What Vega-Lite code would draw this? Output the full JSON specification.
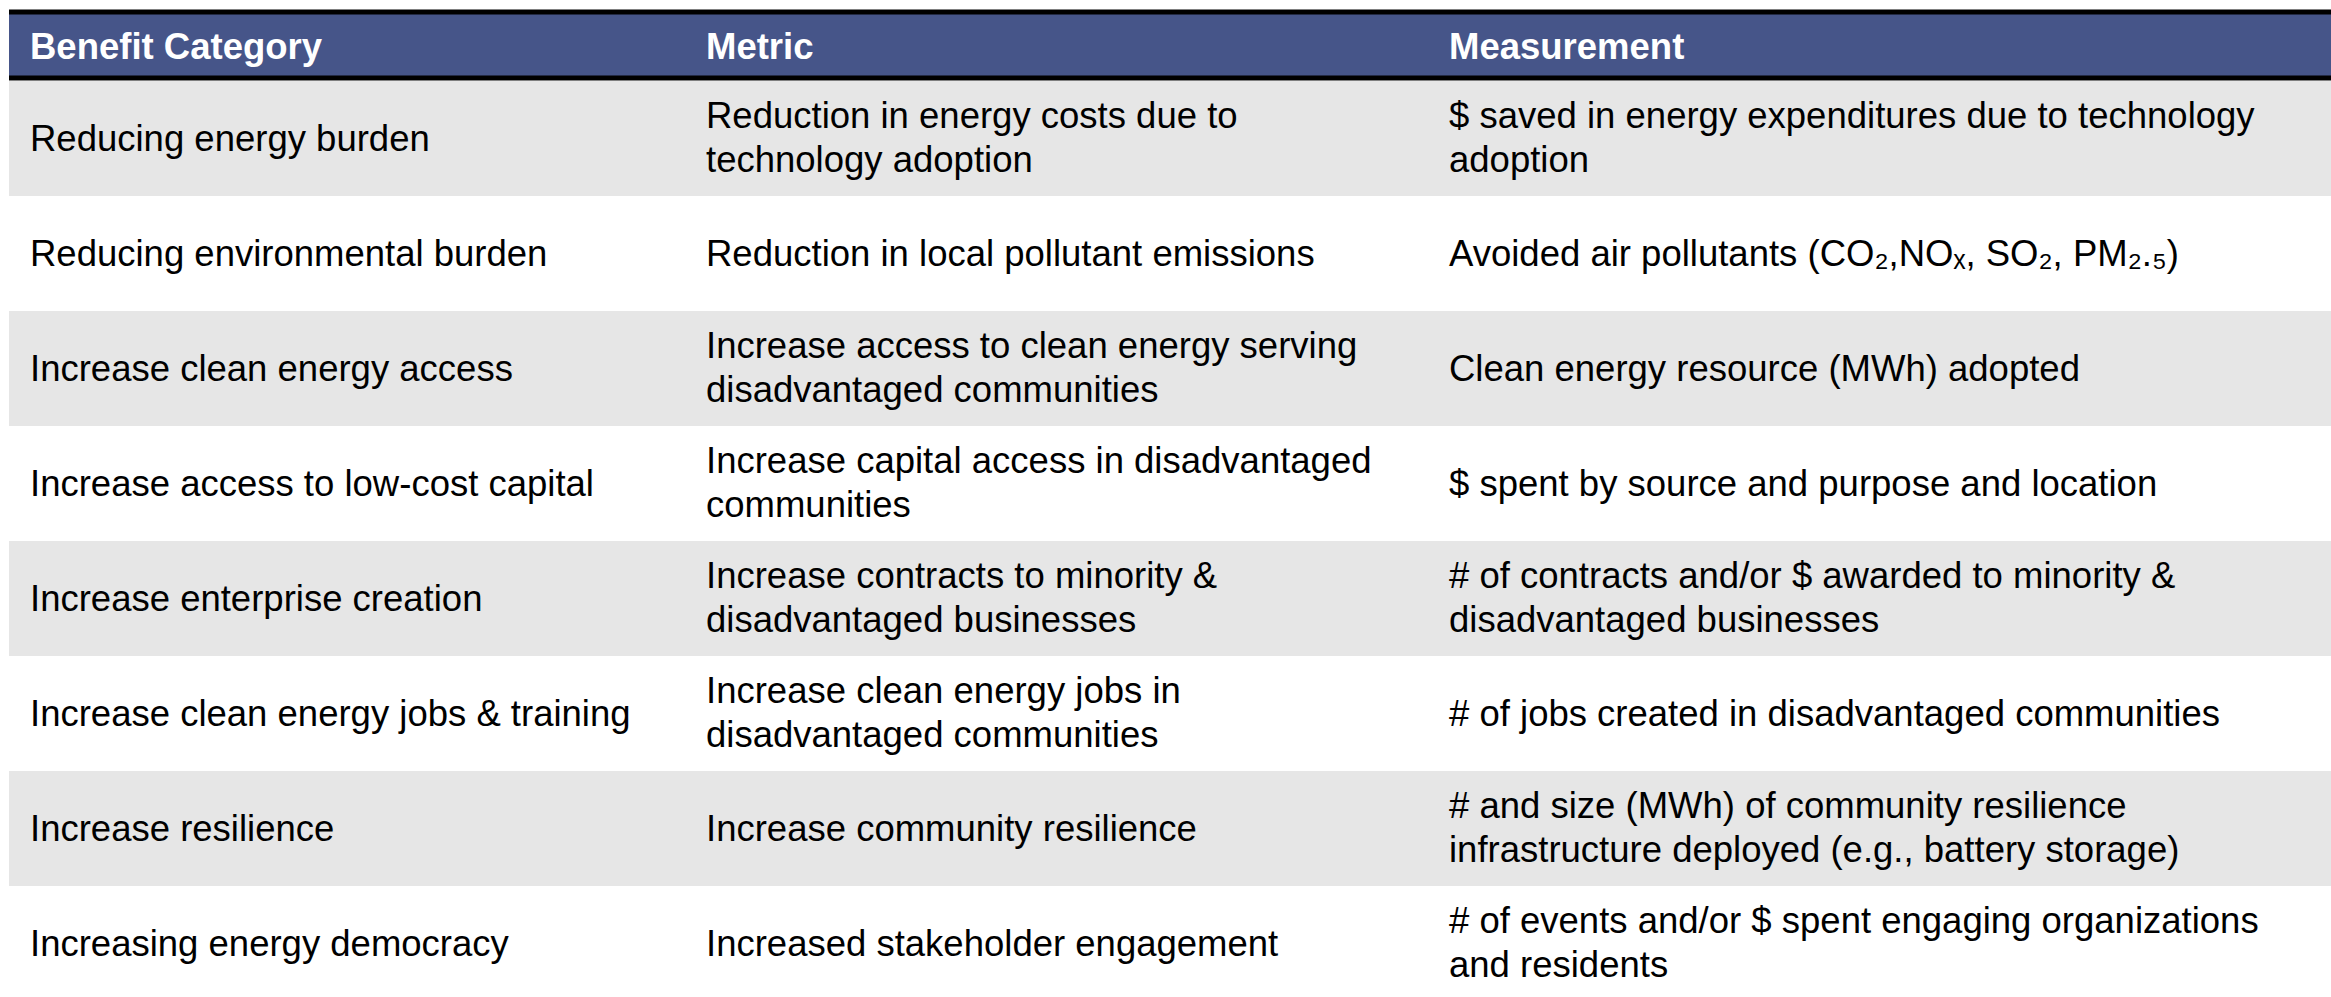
{
  "$schema": "https://vega.github.io/schema/vega-lite/v6.json",
  "padding": {"left": 6, "top": 9, "right": 0, "bottom": 0},
  "background": "white",
  "spacing": 0,
  "config": {"view": {"stroke": null}, "font": "Liberation Sans"},
  "datasets": {
    "rows": [
      {"row": 1, "cat": "Reducing energy burden", "metric": "Reduction in energy costs due to\ntechnology adoption", "meas": "$ saved in energy expenditures due to technology\nadoption"},
      {"row": 2, "cat": "Reducing environmental burden", "metric": "Reduction in local pollutant emissions", "meas": "Avoided air pollutants (CO₂,NOₓ, SO₂, PM₂.₅)"},
      {"row": 3, "cat": "Increase clean energy access", "metric": "Increase access to clean energy serving\ndisadvantaged communities", "meas": "Clean energy resource (MWh) adopted"},
      {"row": 4, "cat": "Increase access to low-cost capital", "metric": "Increase capital access in disadvantaged\ncommunities", "meas": "$ spent by source and purpose and location"},
      {"row": 5, "cat": "Increase enterprise creation", "metric": "Increase contracts to minority &\ndisadvantaged businesses", "meas": "# of contracts and/or $ awarded to minority &\ndisadvantaged businesses"},
      {"row": 6, "cat": "Increase clean energy jobs & training", "metric": "Increase clean energy jobs in\ndisadvantaged communities", "meas": "# of jobs created in disadvantaged communities"},
      {"row": 7, "cat": "Increase resilience", "metric": "Increase community resilience", "meas": "# and size (MWh) of community resilience\ninfrastructure deployed (e.g., battery storage)"},
      {"row": 8, "cat": "Increasing energy democracy", "metric": "Increased stakeholder engagement", "meas": "# of events and/or $ spent engaging organizations\nand residents"}
    ]
  },
  "vconcat": [
    {
      "spacing": 0,
      "bounds": "flush",
      "hconcat": [
        {
          "width": 676, "height": 66,
          "data": {"values": [{"label": "Benefit Category"}]},
          "view": {"fill": "#465589", "stroke": null},
          "layer": [
            {"mark": {"type": "rule", "color": "black", "strokeWidth": 5}, "encoding": {"x": {"datum": 0, "type": "quantitative", "scale": {"domain": [0, 1], "nice": false}, "axis": null}, "x2": {"datum": 1}, "y": {"datum": 1, "type": "quantitative", "scale": {"domain": [0, 1], "nice": false}, "axis": null}}},
            {"mark": {"type": "rule", "color": "black", "strokeWidth": 5}, "encoding": {"x": {"datum": 0, "type": "quantitative"}, "x2": {"datum": 1}, "y": {"datum": 0, "type": "quantitative"}}},
            {"mark": {"type": "text", "align": "left", "baseline": "middle", "dx": 21, "dy": 3, "fontSize": 36.5, "fontWeight": "bold", "color": "white"}, "encoding": {"x": {"datum": 0, "type": "quantitative"}, "y": {"datum": 0.5, "type": "quantitative"}, "text": {"field": "label"}}}
          ]
        },
        {
          "width": 743, "height": 66,
          "data": {"values": [{"label": "Metric"}]},
          "view": {"fill": "#465589", "stroke": null},
          "layer": [
            {"mark": {"type": "rule", "color": "black", "strokeWidth": 5}, "encoding": {"x": {"datum": 0, "type": "quantitative", "scale": {"domain": [0, 1], "nice": false}, "axis": null}, "x2": {"datum": 1}, "y": {"datum": 1, "type": "quantitative", "scale": {"domain": [0, 1], "nice": false}, "axis": null}}},
            {"mark": {"type": "rule", "color": "black", "strokeWidth": 5}, "encoding": {"x": {"datum": 0, "type": "quantitative"}, "x2": {"datum": 1}, "y": {"datum": 0, "type": "quantitative"}}},
            {"mark": {"type": "text", "align": "left", "baseline": "middle", "dx": 21, "dy": 3, "fontSize": 36.5, "fontWeight": "bold", "color": "white"}, "encoding": {"x": {"datum": 0, "type": "quantitative"}, "y": {"datum": 0.5, "type": "quantitative"}, "text": {"field": "label"}}}
          ]
        },
        {
          "width": 903, "height": 66,
          "data": {"values": [{"label": "Measurement"}]},
          "view": {"fill": "#465589", "stroke": null},
          "layer": [
            {"mark": {"type": "rule", "color": "black", "strokeWidth": 5}, "encoding": {"x": {"datum": 0, "type": "quantitative", "scale": {"domain": [0, 1], "nice": false}, "axis": null}, "x2": {"datum": 1}, "y": {"datum": 1, "type": "quantitative", "scale": {"domain": [0, 1], "nice": false}, "axis": null}}},
            {"mark": {"type": "rule", "color": "black", "strokeWidth": 5}, "encoding": {"x": {"datum": 0, "type": "quantitative"}, "x2": {"datum": 1}, "y": {"datum": 0, "type": "quantitative"}}},
            {"mark": {"type": "text", "align": "left", "baseline": "middle", "dx": 21, "dy": 3, "fontSize": 36.5, "fontWeight": "bold", "color": "white"}, "encoding": {"x": {"datum": 0, "type": "quantitative"}, "y": {"datum": 0.5, "type": "quantitative"}, "text": {"field": "label"}}}
          ]
        }
      ]
    },
    {
      "spacing": 0,
      "bounds": "flush",
      "hconcat": [
        {
          "width": 676, "height": 920,
          "data": {"name": "rows"},
          "layer": [
            {"transform": [{"filter": "datum.row % 2 == 1"}], "mark": {"type": "rect", "color": "#E6E6E6"}, "encoding": {"x": {"datum": 0, "type": "quantitative", "scale": {"domain": [0, 1], "nice": false}, "axis": null}, "x2": {"datum": 1}, "y": {"field": "row", "type": "ordinal", "scale": {"domain": [1, 2, 3, 4, 5, 6, 7, 8], "paddingInner": 0, "paddingOuter": 0}, "axis": null}}},
            {"transform": [{"filter": "indexof(datum.cat, '\\n') < 0"}], "mark": {"type": "text", "align": "left", "baseline": "middle", "dx": 21, "dy": 1, "fontSize": 36.5, "color": "black"}, "encoding": {"x": {"datum": 0, "type": "quantitative"}, "y": {"field": "row", "type": "ordinal"}, "text": {"field": "cat"}}},
            {"transform": [{"filter": "indexof(datum.cat, '\\n') >= 0"}], "mark": {"type": "text", "align": "left", "baseline": "middle", "dx": 21, "dy": -22, "fontSize": 36.5, "lineBreak": "\n", "lineHeight": 44, "color": "black"}, "encoding": {"x": {"datum": 0, "type": "quantitative"}, "y": {"field": "row", "type": "ordinal"}, "text": {"field": "cat"}}}
          ]
        },
        {
          "width": 743, "height": 920,
          "data": {"name": "rows"},
          "layer": [
            {"transform": [{"filter": "datum.row % 2 == 1"}], "mark": {"type": "rect", "color": "#E6E6E6"}, "encoding": {"x": {"datum": 0, "type": "quantitative", "scale": {"domain": [0, 1], "nice": false}, "axis": null}, "x2": {"datum": 1}, "y": {"field": "row", "type": "ordinal", "scale": {"domain": [1, 2, 3, 4, 5, 6, 7, 8], "paddingInner": 0, "paddingOuter": 0}, "axis": null}}},
            {"transform": [{"filter": "indexof(datum.metric, '\\n') < 0"}], "mark": {"type": "text", "align": "left", "baseline": "middle", "dx": 21, "dy": 1, "fontSize": 36.5, "color": "black"}, "encoding": {"x": {"datum": 0, "type": "quantitative"}, "y": {"field": "row", "type": "ordinal"}, "text": {"field": "metric"}}},
            {"transform": [{"filter": "indexof(datum.metric, '\\n') >= 0"}], "mark": {"type": "text", "align": "left", "baseline": "middle", "dx": 21, "dy": -22, "fontSize": 36.5, "lineBreak": "\n", "lineHeight": 44, "color": "black"}, "encoding": {"x": {"datum": 0, "type": "quantitative"}, "y": {"field": "row", "type": "ordinal"}, "text": {"field": "metric"}}}
          ]
        },
        {
          "width": 903, "height": 920,
          "data": {"name": "rows"},
          "layer": [
            {"transform": [{"filter": "datum.row % 2 == 1"}], "mark": {"type": "rect", "color": "#E6E6E6"}, "encoding": {"x": {"datum": 0, "type": "quantitative", "scale": {"domain": [0, 1], "nice": false}, "axis": null}, "x2": {"datum": 1}, "y": {"field": "row", "type": "ordinal", "scale": {"domain": [1, 2, 3, 4, 5, 6, 7, 8], "paddingInner": 0, "paddingOuter": 0}, "axis": null}}},
            {"transform": [{"filter": "indexof(datum.meas, '\\n') < 0"}], "mark": {"type": "text", "align": "left", "baseline": "middle", "dx": 21, "dy": 1, "fontSize": 36.5, "color": "black"}, "encoding": {"x": {"datum": 0, "type": "quantitative"}, "y": {"field": "row", "type": "ordinal"}, "text": {"field": "meas"}}},
            {"transform": [{"filter": "indexof(datum.meas, '\\n') >= 0"}], "mark": {"type": "text", "align": "left", "baseline": "middle", "dx": 21, "dy": -22, "fontSize": 36.5, "lineBreak": "\n", "lineHeight": 44, "color": "black"}, "encoding": {"x": {"datum": 0, "type": "quantitative"}, "y": {"field": "row", "type": "ordinal"}, "text": {"field": "meas"}}}
          ]
        }
      ]
    }
  ]
}
